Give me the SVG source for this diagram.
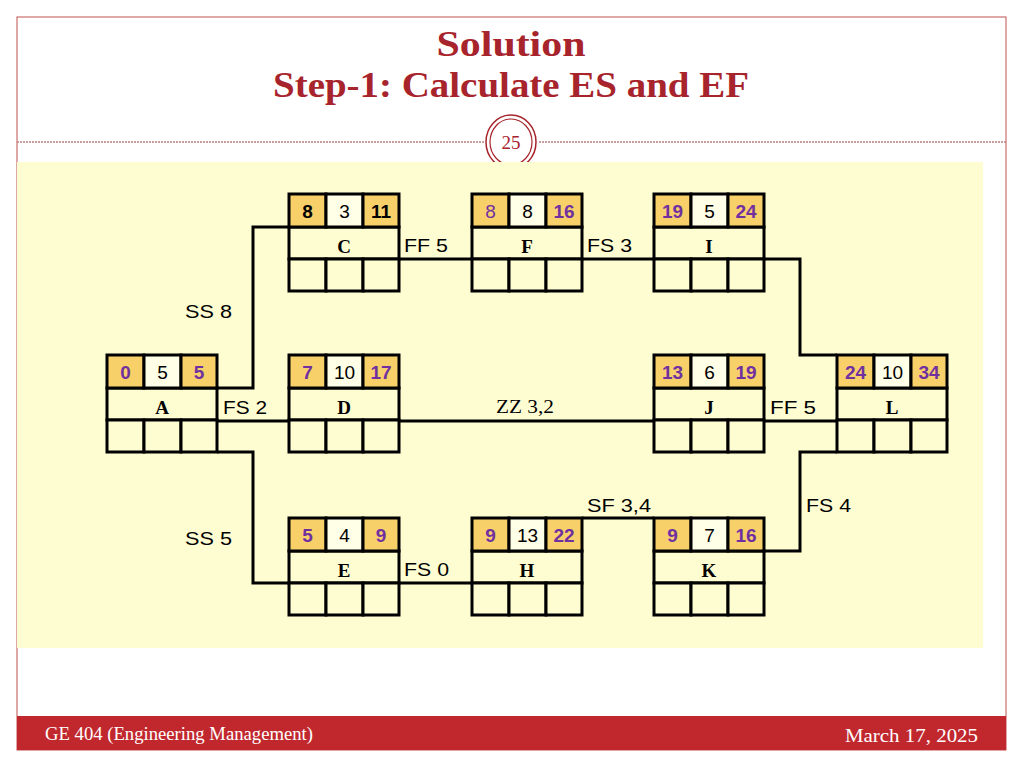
<svg xmlns="http://www.w3.org/2000/svg" width="1024" height="768" viewBox="0 0 1024 768">
<defs>
<style>
.frame{fill:#ffffff;stroke:#c0504d;stroke-width:1}
.title{font-family:"Liberation Serif","Times New Roman",serif;font-weight:bold;fill:#a8242c;text-anchor:middle}
.foot{font-family:"Liberation Serif","Times New Roman",serif;fill:#ffffff;font-size:18px}
.cellO{fill:#f8d06a;stroke:#000;stroke-width:3}
.cellC{fill:#fffee6;stroke:#000;stroke-width:3}
.cellP{fill:#fefdd2;stroke:#000;stroke-width:3}
.num{font-family:"Liberation Sans",Arial,sans-serif;font-size:19px;text-anchor:middle;fill:#000}
.pb{fill:#7030a0;font-weight:bold}
.pn{fill:#7030a0}
.bb{fill:#000;font-weight:bold}
.name{font-family:"Liberation Serif","Times New Roman",serif;font-size:19px;font-weight:bold;text-anchor:middle;fill:#000}
.lbl{font-family:"Liberation Sans",Arial,sans-serif;font-size:19px;fill:#000}
.lbls{font-family:"Liberation Serif","Times New Roman",serif;font-size:19px;fill:#000}
.conn{fill:none;stroke:#000;stroke-width:3;stroke-linejoin:miter}
</style>
</defs>
<rect x="0" y="0" width="1024" height="768" fill="#ffffff"/>
<rect class="frame" x="17" y="17" width="989" height="733"/>
<text class="title" x="511" y="56" font-size="36" textLength="149" lengthAdjust="spacingAndGlyphs">Solution</text>
<text class="title" x="511" y="97" font-size="36" textLength="476" lengthAdjust="spacingAndGlyphs">Step-1: Calculate ES and EF</text>
<line x1="17" y1="142" x2="484" y2="142" stroke="#b9807f" stroke-width="1.5" stroke-dasharray="2,1"/>
<line x1="539" y1="142" x2="1006" y2="142" stroke="#b9807f" stroke-width="1.5" stroke-dasharray="2,1"/>
<ellipse cx="511" cy="142" rx="25" ry="27" fill="#ffffff" stroke="#a8242c" stroke-width="1.5"/>
<ellipse cx="511" cy="142" rx="21" ry="23" fill="#ffffff" stroke="#a8242c" stroke-width="1.2"/>
<text x="511" y="149" font-family="Liberation Serif, Times New Roman, serif" font-size="19" fill="#a8242c" text-anchor="middle">25</text>
<rect x="17" y="162" width="966" height="486" fill="#fefdd2"/>
<rect x="17" y="716" width="989" height="34" fill="#c1282e"/>
<text class="foot" x="45" y="740" textLength="268" lengthAdjust="spacingAndGlyphs">GE 404 (Engineering Management)</text>
<text class="foot" x="978" y="742" text-anchor="end" font-size="19" textLength="133" lengthAdjust="spacingAndGlyphs">March 17, 2025</text>

<g id="connectors">
<polyline class="conn" points="217,388 253,388 253,227 289,227"/>
<polyline class="conn" points="217,421 289,421"/>
<polyline class="conn" points="217,452 253,452 253,583 289,583"/>
<polyline class="conn" points="399,259 472,259"/>
<polyline class="conn" points="582,259 654,259"/>
<polyline class="conn" points="764,259 800,259 800,355 837,355"/>
<polyline class="conn" points="399,421 654,421"/>
<polyline class="conn" points="764,421 837,421"/>
<polyline class="conn" points="399,583 472,583"/>
<polyline class="conn" points="582,518 654,518"/>
<polyline class="conn" points="764,551 800,551 800,452 837,452"/>
<text class="lbl" x="185" y="318" textLength="47" lengthAdjust="spacingAndGlyphs">SS 8</text>
<text class="lbl" x="185" y="545" textLength="47" lengthAdjust="spacingAndGlyphs">SS 5</text>
<text class="lbl" x="223" y="414" textLength="44" lengthAdjust="spacingAndGlyphs">FS 2</text>
<text class="lbl" x="404" y="252" textLength="44" lengthAdjust="spacingAndGlyphs">FF 5</text>
<text class="lbl" x="587" y="252" textLength="45" lengthAdjust="spacingAndGlyphs">FS 3</text>
<text class="lbls" x="496" y="413" textLength="58" lengthAdjust="spacingAndGlyphs">ZZ 3,2</text>
<text class="lbl" x="770" y="414" textLength="46" lengthAdjust="spacingAndGlyphs">FF  5</text>
<text class="lbl" x="404" y="576" textLength="45" lengthAdjust="spacingAndGlyphs">FS 0</text>
<text class="lbl" x="587" y="512" textLength="64" lengthAdjust="spacingAndGlyphs">SF 3,4</text>
<text class="lbl" x="806" y="512" textLength="45" lengthAdjust="spacingAndGlyphs">FS 4</text>
</g>

<g id="node-A" transform="translate(107,355)">
<rect class="cellP" x="0" y="33" width="110" height="32"/>
<rect class="cellP" x="0" y="65" width="37" height="32"/><rect class="cellP" x="37" y="65" width="37" height="32"/><rect class="cellP" x="74" y="65" width="36" height="32"/>
<rect class="cellO" x="0" y="0" width="37" height="33"/><rect class="cellC" x="37" y="0" width="37" height="33"/><rect class="cellO" x="74" y="0" width="36" height="33"/>
<text class="num pb" x="18.5" y="24">0</text><text class="num" x="55.5" y="24">5</text><text class="num pb" x="92" y="24">5</text>
<text class="name" x="55" y="59">A</text>
</g>

<g id="node-C" transform="translate(289,194)">
<rect class="cellP" x="0" y="33" width="110" height="32"/>
<rect class="cellP" x="0" y="65" width="37" height="32"/><rect class="cellP" x="37" y="65" width="37" height="32"/><rect class="cellP" x="74" y="65" width="36" height="32"/>
<rect class="cellO" x="0" y="0" width="37" height="33"/><rect class="cellC" x="37" y="0" width="37" height="33"/><rect class="cellO" x="74" y="0" width="36" height="33"/>
<text class="num bb" x="18.5" y="24">8</text><text class="num" x="55.5" y="24">3</text><text class="num bb" x="92" y="24">11</text>
<text class="name" x="55" y="59">C</text>
</g>

<g id="node-D" transform="translate(289,355)">
<rect class="cellP" x="0" y="33" width="110" height="32"/>
<rect class="cellP" x="0" y="65" width="37" height="32"/><rect class="cellP" x="37" y="65" width="37" height="32"/><rect class="cellP" x="74" y="65" width="36" height="32"/>
<rect class="cellO" x="0" y="0" width="37" height="33"/><rect class="cellC" x="37" y="0" width="37" height="33"/><rect class="cellO" x="74" y="0" width="36" height="33"/>
<text class="num pb" x="18.5" y="24">7</text><text class="num" x="55.5" y="24">10</text><text class="num pb" x="92" y="24">17</text>
<text class="name" x="55" y="59">D</text>
</g>

<g id="node-E" transform="translate(289,518)">
<rect class="cellP" x="0" y="33" width="110" height="32"/>
<rect class="cellP" x="0" y="65" width="37" height="32"/><rect class="cellP" x="37" y="65" width="37" height="32"/><rect class="cellP" x="74" y="65" width="36" height="32"/>
<rect class="cellO" x="0" y="0" width="37" height="33"/><rect class="cellC" x="37" y="0" width="37" height="33"/><rect class="cellO" x="74" y="0" width="36" height="33"/>
<text class="num pb" x="18.5" y="24">5</text><text class="num" x="55.5" y="24">4</text><text class="num pb" x="92" y="24">9</text>
<text class="name" x="55" y="59">E</text>
</g>

<g id="node-F" transform="translate(472,194)">
<rect class="cellP" x="0" y="33" width="110" height="32"/>
<rect class="cellP" x="0" y="65" width="37" height="32"/><rect class="cellP" x="37" y="65" width="37" height="32"/><rect class="cellP" x="74" y="65" width="36" height="32"/>
<rect class="cellO" x="0" y="0" width="37" height="33"/><rect class="cellC" x="37" y="0" width="37" height="33"/><rect class="cellO" x="74" y="0" width="36" height="33"/>
<text class="num pn" x="18.5" y="24">8</text><text class="num" x="55.5" y="24">8</text><text class="num pb" x="92" y="24">16</text>
<text class="name" x="55" y="59">F</text>
</g>

<g id="node-H" transform="translate(472,518)">
<rect class="cellP" x="0" y="33" width="110" height="32"/>
<rect class="cellP" x="0" y="65" width="37" height="32"/><rect class="cellP" x="37" y="65" width="37" height="32"/><rect class="cellP" x="74" y="65" width="36" height="32"/>
<rect class="cellO" x="0" y="0" width="37" height="33"/><rect class="cellC" x="37" y="0" width="37" height="33"/><rect class="cellO" x="74" y="0" width="36" height="33"/>
<text class="num pb" x="18.5" y="24">9</text><text class="num" x="55.5" y="24">13</text><text class="num pb" x="92" y="24">22</text>
<text class="name" x="55" y="59">H</text>
</g>

<g id="node-I" transform="translate(654,194)">
<rect class="cellP" x="0" y="33" width="110" height="32"/>
<rect class="cellP" x="0" y="65" width="37" height="32"/><rect class="cellP" x="37" y="65" width="37" height="32"/><rect class="cellP" x="74" y="65" width="36" height="32"/>
<rect class="cellO" x="0" y="0" width="37" height="33"/><rect class="cellC" x="37" y="0" width="37" height="33"/><rect class="cellO" x="74" y="0" width="36" height="33"/>
<text class="num pb" x="18.5" y="24">19</text><text class="num" x="55.5" y="24">5</text><text class="num pb" x="92" y="24">24</text>
<text class="name" x="55" y="59">I</text>
</g>

<g id="node-J" transform="translate(654,355)">
<rect class="cellP" x="0" y="33" width="110" height="32"/>
<rect class="cellP" x="0" y="65" width="37" height="32"/><rect class="cellP" x="37" y="65" width="37" height="32"/><rect class="cellP" x="74" y="65" width="36" height="32"/>
<rect class="cellO" x="0" y="0" width="37" height="33"/><rect class="cellC" x="37" y="0" width="37" height="33"/><rect class="cellO" x="74" y="0" width="36" height="33"/>
<text class="num pb" x="18.5" y="24">13</text><text class="num" x="55.5" y="24">6</text><text class="num pb" x="92" y="24">19</text>
<text class="name" x="55" y="59">J</text>
</g>

<g id="node-K" transform="translate(654,518)">
<rect class="cellP" x="0" y="33" width="110" height="32"/>
<rect class="cellP" x="0" y="65" width="37" height="32"/><rect class="cellP" x="37" y="65" width="37" height="32"/><rect class="cellP" x="74" y="65" width="36" height="32"/>
<rect class="cellO" x="0" y="0" width="37" height="33"/><rect class="cellC" x="37" y="0" width="37" height="33"/><rect class="cellO" x="74" y="0" width="36" height="33"/>
<text class="num pb" x="18.5" y="24">9</text><text class="num" x="55.5" y="24">7</text><text class="num pb" x="92" y="24">16</text>
<text class="name" x="55" y="59">K</text>
</g>

<g id="node-L" transform="translate(837,355)">
<rect class="cellP" x="0" y="33" width="110" height="32"/>
<rect class="cellP" x="0" y="65" width="37" height="32"/><rect class="cellP" x="37" y="65" width="37" height="32"/><rect class="cellP" x="74" y="65" width="36" height="32"/>
<rect class="cellO" x="0" y="0" width="37" height="33"/><rect class="cellC" x="37" y="0" width="37" height="33"/><rect class="cellO" x="74" y="0" width="36" height="33"/>
<text class="num pb" x="18.5" y="24">24</text><text class="num" x="55.5" y="24">10</text><text class="num pb" x="92" y="24">34</text>
<text class="name" x="55" y="59">L</text>
</g>
</svg>
